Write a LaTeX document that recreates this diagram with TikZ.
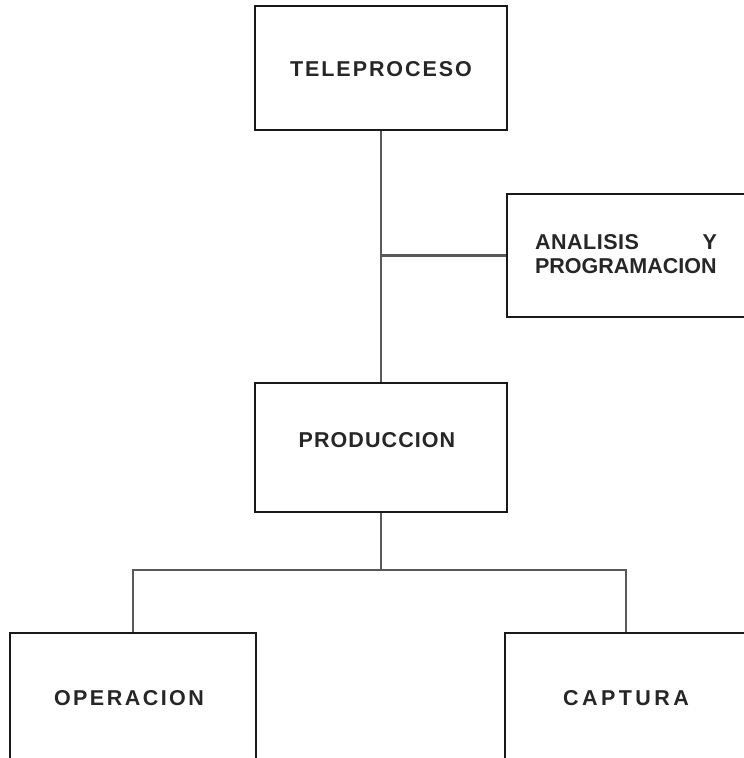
\documentclass[tikz,border=0pt]{standalone}
\usepackage{fontspec}
\setmainfont{Liberation Sans}
\begin{document}
\begin{tikzpicture}[x=1pt,y=-1pt,
  box/.style={draw=black!90, line width=2pt, inner sep=0pt},
  conn/.style={draw=black!65, line width=2.6pt},
  lbl/.style={font=\fontsize{21.5}{24.5}\selectfont\bfseries, text=black!85, inner sep=0pt}]
\useasboundingbox (0,0) rectangle (744,758);
\clip (0,0) rectangle (744,758);

% boxes of the chart
\node[box, minimum width=252pt, minimum height=124pt] (tele) at (381,68) {};
\node[box, minimum width=252pt, minimum height=129pt] (prod) at (381,447.5) {};
\node[box, minimum width=238pt, minimum height=123pt] (anal) at (626,255.5) {};
\node[box, minimum width=246pt, minimum height=130pt] (oper) at (133,698) {};
\node[box, minimum width=242pt, minimum height=130pt] (capt) at (626,698) {};

% labels
\node[lbl] (teleT) at (381,69) {\addfontfeatures{LetterSpace=9}TELEPROCESO};
\node[lbl] (prodT) at (377,440) {\addfontfeatures{LetterSpace=5}PRODUCCION};
\node[lbl, text width=182pt, align=left] (analT) at (626,254)
  {\addfontfeatures{LetterSpace=2.5}ANALISIS\hfill Y\\\addfontfeatures{LetterSpace=0}PROGRAMACION};
\node[lbl] (operT) at (129,698) {\addfontfeatures{LetterSpace=11.5}OPERACION};
\node[lbl] (captT) at (626,698) {\addfontfeatures{LetterSpace=16}CAPTURA};

% connectors
\coordinate (fork) at (381,570);
\draw[conn] (tele.south) -- (prod.north);
\draw[conn] (anal.west) -- (anal.west -| tele.south);
\draw[conn] (prod.south) -- (fork);
\draw[conn] (oper.north) |- (fork) -| (capt.north);
\end{tikzpicture}
\end{document}
